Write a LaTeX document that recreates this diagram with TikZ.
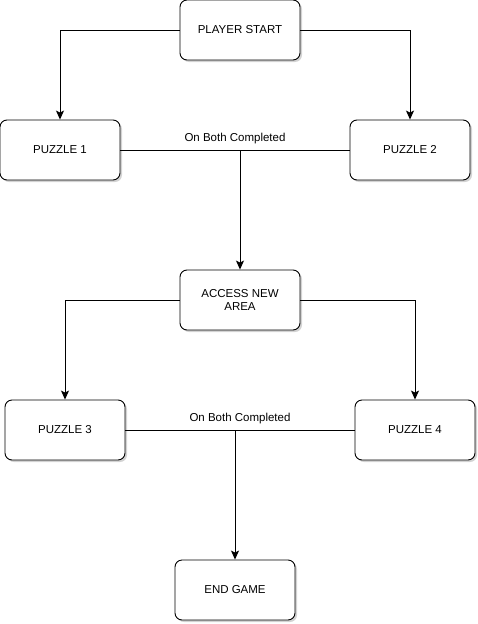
\documentclass[tikz,border=0pt]{standalone}
\usepackage{fontspec}
\setmainfont{Liberation Sans}
\usetikzlibrary{arrows.meta,shadows}
\tikzset{
  stage/.style={draw, fill=white, rounded corners=7pt, line width=0.9pt,
    minimum width=120pt, minimum height=60pt, align=center,
    font=\fontsize{11.5}{13}\selectfont,
    drop shadow={shadow xshift=2pt, shadow yshift=-2pt, opacity=0.35}},
  flow/.style={line width=0.9pt, -{Stealth[length=9pt,width=8pt,inset=2pt]}},
  bothline/.style={line width=0.9pt}
}
\begin{document}
\begin{tikzpicture}[x=1pt, y=-1pt]
  \useasboundingbox (0,0) rectangle (478,624);
  \node[stage] (start) at (240,30) {PLAYER START};
  \node[stage] (p1) at (60,150) {PUZZLE 1};
  \node[stage] (p2) at (410,150) {PUZZLE 2};
  \node[stage] (area) at (240,300) {ACCESS NEW\\AREA};
  \node[stage] (p3) at (65,430) {PUZZLE 3};
  \node[stage] (p4) at (415,430) {PUZZLE 4};
  \node[stage] (end) at (235,590) {END GAME};
  % first pair
  \draw[flow] (start.west) -| (p1.north);
  \draw[flow] (start.east) -| (p2.north);
  \draw[bothline] (p1.east) -- node[above=2pt, font=\fontsize{11.5}{13}\selectfont] (done1) {On Both Completed} (p2.west);
  \coordinate (m1) at (240,150);
  \draw[flow] (m1) -- (area.north);
  % second pair
  \draw[flow] (area.west) -| (p3.north);
  \draw[flow] (area.east) -| (p4.north);
  \draw[bothline] (p3.east) -- node[above=2pt, font=\fontsize{11.5}{13}\selectfont] (done2) {On Both Completed} (p4.west);
  \coordinate (m2) at (235,430);
  \draw[flow] (m2) -- (end.north);
\end{tikzpicture}
\end{document}
